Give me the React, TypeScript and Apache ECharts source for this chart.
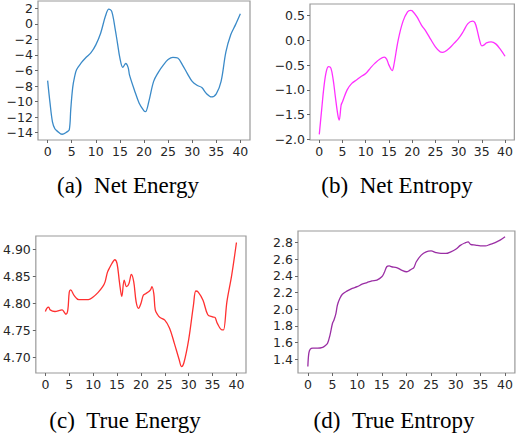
import React, { useEffect, useRef } from "react";
import * as echarts from "echarts";

const xTicks = [0, 5, 10, 15, 20, 25, 30, 35, 40];

const aTicks = [2, 0, -2, -4, -6, -8, -10, -12, -14];
const aX = [0, 0.5, 1, 1.5, 2, 3, 4, 4.5, 4.8, 5.2, 5.6, 6, 7, 8, 9, 10, 11, 12, 12.7, 13.3, 14, 14.5, 15, 15.6, 16.2, 16.7, 17, 18, 19, 20, 20.3, 21, 22, 23, 24, 25, 26, 27, 28, 29, 30, 31, 32, 33, 34, 35, 36, 37, 38, 39, 40];
const aY = [-7.3, -10.2, -12.6, -13.5, -13.8, -14.2, -13.9, -13.6, -11.0, -8.2, -6.8, -5.9, -5.0, -4.3, -3.7, -2.7, -1.2, 1.0, 1.9, 1.6, -0.6, -2.5, -4.4, -5.6, -5.1, -5.6, -6.6, -8.5, -10.2, -11.2, -11.3, -10.0, -7.4, -6.2, -5.3, -4.6, -4.3, -4.4, -5.3, -6.4, -7.4, -7.9, -8.2, -9.0, -9.4, -9.0, -7.4, -3.6, -1.4, -0.1, 1.3];

const bTicks = [0.5, 0, -0.5, -1, -1.5, -2];
const bX = [0, 0.5, 1, 1.5, 2, 2.5, 3, 3.5, 4, 4.3, 4.7, 5, 6, 7, 8, 9, 10, 11, 12, 13, 14, 14.5, 15, 15.7, 16, 17, 18, 19, 19.7, 20, 21, 22, 23, 24, 25, 26, 26.5, 27, 28, 29, 30, 31, 32, 33, 33.5, 34, 34.5, 35, 35.5, 36, 37, 38, 39, 40];
const bY = [-1.9, -1.41, -0.94, -0.63, -0.53, -0.56, -0.8, -1.17, -1.51, -1.61, -1.31, -1.24, -1.0, -0.87, -0.8, -0.73, -0.67, -0.56, -0.46, -0.38, -0.34, -0.38, -0.5, -0.61, -0.53, 0.01, 0.38, 0.58, 0.61, 0.6, 0.48, 0.31, 0.18, 0.02, -0.13, -0.23, -0.24, -0.23, -0.16, -0.06, 0.04, 0.18, 0.34, 0.39, 0.36, 0.21, 0.01, -0.11, -0.09, -0.05, -0.03, -0.07, -0.18, -0.32];

const cTicks = [4.7, 4.75, 4.8, 4.85, 4.9];
const cX = [0, 0.3, 0.7, 1, 2, 3, 3.5, 4, 4.3, 4.7, 5, 5.3, 6, 7, 8, 9, 10, 11, 12, 12.5, 13, 13.5, 14, 14.5, 15, 15.5, 16, 16.5, 17, 17.5, 18, 18.5, 19, 19.5, 20, 20.5, 21, 21.5, 22, 22.3, 22.7, 23, 23.5, 24, 25, 26, 27, 28, 28.5, 29, 30, 31, 31.5, 32, 33, 34, 35, 35.5, 36, 37, 37.3, 38, 39, 40];
const cY = [4.785, 4.791, 4.793, 4.788, 4.785, 4.787, 4.788, 4.783, 4.78, 4.788, 4.821, 4.825, 4.815, 4.807, 4.807, 4.807, 4.812, 4.82, 4.831, 4.84, 4.858, 4.867, 4.875, 4.881, 4.874, 4.84, 4.813, 4.843, 4.831, 4.837, 4.854, 4.84, 4.803, 4.791, 4.8, 4.815, 4.818, 4.821, 4.825, 4.831, 4.818, 4.788, 4.779, 4.774, 4.769, 4.754, 4.726, 4.696, 4.683, 4.69, 4.733, 4.797, 4.823, 4.821, 4.806, 4.779, 4.775, 4.774, 4.763, 4.751, 4.751, 4.803, 4.852, 4.913];

const dTicks = [1.4, 1.6, 1.8, 2.0, 2.2, 2.4, 2.6, 2.8];
const dX = [0, 0.2, 0.5, 1, 2, 3, 3.5, 4, 4.5, 5, 5.3, 5.7, 6, 6.5, 7, 8, 9, 10, 11, 12, 13, 14, 15, 15.5, 16, 16.5, 17, 18, 19, 20, 20.5, 21, 21.5, 22, 23, 24, 25, 26, 27, 28, 29, 30, 31, 32, 32.5, 33, 34, 35, 36, 37, 38, 39, 40];
const dY = [1.31, 1.47, 1.52, 1.53, 1.53, 1.54, 1.56, 1.59, 1.69, 1.83, 1.87, 1.95, 2.05, 2.13, 2.18, 2.22, 2.25, 2.27, 2.3, 2.32, 2.34, 2.35, 2.39, 2.44, 2.51, 2.52, 2.51, 2.5, 2.47, 2.45, 2.46, 2.48, 2.5, 2.57, 2.65, 2.69, 2.7, 2.68, 2.67, 2.67, 2.69, 2.72, 2.77, 2.8, 2.81, 2.78, 2.77, 2.76, 2.76, 2.78, 2.8, 2.83, 2.87];

const captions = ["(a)\u2002Net Energy", "(b)\u2002Net Entropy", "(c)\u2002True Energy", "(d)\u2002True Entropy"];

const zip = (xs: number[], ys: number[]) => xs.map((x, i) => [x, ys[i]]);
const fmt = (d: number) => (v: number) => v.toFixed(d).replace("-", "\u2212");

const tickFont = { fontFamily: "DejaVu Sans", fontSize: 12.5, color: "#262626" };

function xAxis(gridIndex: number) {
  return {
    type: "value",
    gridIndex,
    min: -2,
    max: 42,
    axisLine: { show: false, onZero: false },
    splitLine: { show: false },
    axisTick: { show: true, length: 3, lineStyle: { color: "#666" }, customValues: xTicks },
    axisLabel: { ...tickFont, margin: 5, customValues: xTicks, formatter: fmt(0) },
  };
}

function yAxis(gridIndex: number, min: number, max: number, ticks: number[], dec: number) {
  return {
    type: "value",
    gridIndex,
    min,
    max,
    axisLine: { show: false, onZero: false },
    splitLine: { show: false },
    axisTick: { show: true, length: 3, lineStyle: { color: "#666" }, customValues: ticks },
    axisLabel: { ...tickFont, margin: 5, customValues: ticks, formatter: fmt(dec) },
  };
}

function series(i: number, data: number[][], color: string) {
  return {
    type: "line",
    xAxisIndex: i,
    yAxisIndex: i,
    data,
    smooth: 0.35,
    showSymbol: false,
    lineStyle: { color, width: 1.3 },
  };
}

const gridBase = { show: true, borderColor: "#999", borderWidth: 1.2, backgroundColor: "transparent" };

export default function App() {
  const ref = useRef<HTMLDivElement>(null);
  useEffect(() => {
    if (!ref.current) return;
    const chart = echarts.init(ref.current, null, { renderer: "svg" });
    const capStyle = { fontFamily: "Liberation Serif", fontSize: 23, fill: "#000", textAlign: "center", textVerticalAlign: "middle" };
    chart.setOption({
      animation: false,
      backgroundColor: "#fff",
      grid: [
        { ...gridBase, left: 38, top: 1, width: 212, height: 139 },
        { ...gridBase, left: 310, top: 4, width: 210, height: 136 },
        { ...gridBase, left: 34, top: 236, width: 212, height: 137 },
        { ...gridBase, left: 298, top: 231, width: 218, height: 142 },
      ],
      xAxis: [xAxis(0), xAxis(1), xAxis(2), xAxis(3)],
      yAxis: [
        yAxis(0, -14.94, 2.94, aTicks, 0),
        yAxis(1, -2.015, 0.737, bTicks, 1),
        yAxis(2, 4.671, 4.925, cTicks, 2),
        yAxis(3, 1.232, 2.94, dTicks, 1),
      ],
      series: [
        series(0, zip(aX, aY), "#3a8ac8"),
        series(1, zip(bX, bY), "#ff30ff"),
        series(2, zip(cX, cY), "#ff3030"),
        series(3, zip(dX, dY), "#9a2ea4"),
      ],
      graphic: [
        { type: "text", x: 128, y: 185, style: { ...capStyle, text: captions[0] } },
        { type: "text", x: 397, y: 185, style: { ...capStyle, text: captions[1] } },
        { type: "text", x: 125, y: 420, style: { ...capStyle, text: captions[2] } },
        { type: "text", x: 394, y: 420, style: { ...capStyle, text: captions[3] } },
      ],
    });
    return () => chart.dispose();
  }, []);
  return <div ref={ref} style={{ position: "fixed", left: 0, top: 0, width: 516, height: 434 }} />;
}
